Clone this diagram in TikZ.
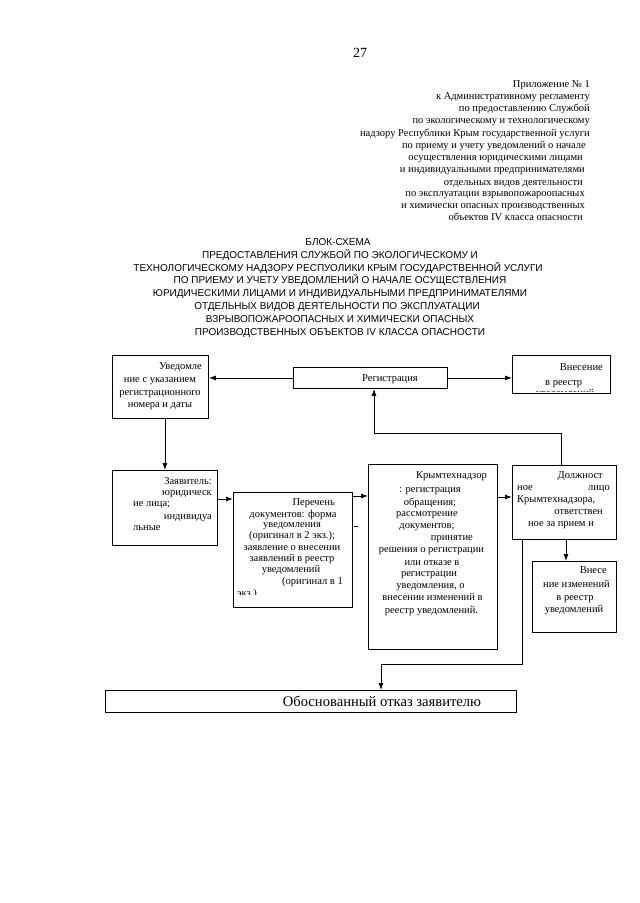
\documentclass[tikz,border=0pt]{standalone}
\usepackage{fontspec}
\setmainfont{Liberation Serif}
\newfontfamily\titlefont{Liberation Sans}
\usetikzlibrary{arrows.meta}
\begin{document}
\begin{tikzpicture}[x=1pt,y=-1pt,
  box/.style={draw, line width=0.9pt, inner sep=0pt, anchor=north west},
  tx/.style={inner sep=0pt, font=\fontsize{10.5}{12}\selectfont},
  ap/.style={inner sep=0pt, anchor=base east, font=\fontsize{10.5}{12}\selectfont},
  hd/.style={inner sep=0pt, anchor=base, font=\titlefont\fontsize{10}{12}\selectfont},
  conn/.style={line width=0.9pt},
  arr/.style={conn, -{Latex[length=7pt,width=5pt]}},
]
\useasboundingbox (0,0) rectangle (640,903);
\fill[white] (0,0) rectangle (640,903);

% page number
\node[inner sep=0pt, anchor=base, font=\fontsize{14}{16}\selectfont] (pg) at (360,57) {27};

% appendix header
\node[ap] (ap1) at (590,87) {Приложение № 1};
\node[ap] (ap2) at (590,99) {к Административному регламенту};
\node[ap] (ap3) at (590,111) {по предоставлению Службой};
\node[ap] (ap4) at (590,123) {по экологическому и технологическому};
\node[ap] (ap5) at (590,136) {надзору Республики Крым государственной услуги};
\node[ap] (ap6) at (586,148) {по приему и учету уведомлений о начале};
\node[ap] (ap7) at (583,160) {осуществления юридическими лицами};
\node[ap] (ap8) at (585,172) {и индивидуальными предпринимателями};
\node[ap] (ap9) at (583,185) {отдельных видов деятельности};
\node[ap] (ap10) at (585,196) {по эксплуатации взрывопожароопасных};
\node[ap] (ap11) at (585,208) {и химически опасных производственных};
\node[ap] (ap12) at (583,220) {объектов IV класса опасности};

% title
\node[hd] (hd1) at (338,245.5) {БЛОК-СХЕМА};
\node[hd] (hd2) at (340,258.3) {ПРЕДОСТАВЛЕНИЯ СЛУЖБОЙ ПО ЭКОЛОГИЧЕСКОМУ И};
\node[hd] (hd3) at (338,271.1) {ТЕХНОЛОГИЧЕСКОМУ НАДЗОРУ РЕСПУОЛИКИ КРЫМ ГОСУДАРСТВЕННОЙ УСЛУГИ};
\node[hd] (hd4) at (340,283.9) {ПО ПРИЕМУ И УЧЕТУ УВЕДОМЛЕНИЙ О НАЧАЛЕ ОСУЩЕСТВЛЕНИЯ};
\node[hd] (hd5) at (340,296.7) {ЮРИДИЧЕСКИМИ ЛИЦАМИ И ИНДИВИДУАЛЬНЫМИ ПРЕДПРИНИМАТЕЛЯМИ};
\node[hd] (hd6) at (337,309.5) {ОТДЕЛЬНЫХ ВИДОВ ДЕЯТЕЛЬНОСТИ ПО ЭКСПЛУАТАЦИИ};
\node[hd] (hd7) at (340,322.3) {ВЗРЫВОПОЖАРООПАСНЫХ И ХИМИЧЕСКИ ОПАСНЫХ};
\node[hd] (hd8) at (340,335.1) {ПРОИЗВОДСТВЕННЫХ ОБЪЕКТОВ IV КЛАССА ОПАСНОСТИ};

% boxes
\node[box, minimum width=96pt, minimum height=63pt] (uv) at (112,355) {};
\node[box, minimum width=154pt, minimum height=21pt] (reg) at (293,367) {};
\node[box, minimum width=98pt, minimum height=38pt] (vr) at (512,355) {};
\node[box, minimum width=105pt, minimum height=75pt] (zv) at (112,470) {};
\node[box, minimum width=119pt, minimum height=115pt] (per) at (233,492) {};
\node[box, minimum width=129pt, minimum height=185pt] (kr) at (368,464) {};
\node[box, minimum width=104pt, minimum height=74pt] (dl) at (512,465) {};
\node[box, minimum width=84pt, minimum height=71pt] (vi) at (532,561) {};
\node[box, minimum width=411pt, minimum height=22pt] (ob) at (105,690) {};

% Уведомление
\node[tx, anchor=base east] (uv1) at (202,369) {Уведомле};
\node[tx, anchor=base] (uv2) at (160,382) {ние с указанием};
\node[tx, anchor=base] (uv3) at (160,395) {регистрационного};
\node[tx, anchor=base] (uv4) at (160,407) {номера и даты};

% Регистрация
\node[tx, anchor=base east] (reg1) at (418,381) {Регистрация};

% Внесение в реестр
\node[tx, anchor=base east] (vr1) at (603,370) {Внесение};
\node[tx, anchor=base west] (vr2) at (545,385) {в реестр};
\begin{scope}
  \clip (513,356) rectangle (609,391.6);
  \node[tx, anchor=base] (vr3) at (565,396) {уведомлений};
\end{scope}

% Заявитель
\node[tx, anchor=base east] (zv1) at (212,484) {Заявитель:};
\node[tx, anchor=base east] (zv2) at (212,495) {юридическ};
\node[tx, anchor=base west] (zv3) at (133,506) {ие лица;};
\node[tx, anchor=base east] (zv4) at (212,519) {индивидуа};
\node[tx, anchor=base west] (zv5) at (133,530) {льные};

% Перечень
\node[tx, anchor=base east] (pe1) at (335,505.5) {Перечень};
\node[tx, anchor=base] (pe2) at (293,517) {документов: форма};
\node[tx, anchor=base] (pe3) at (292,527.5) {уведомления};
\node[tx, anchor=base] (pe4) at (292,538.5) {(оригинал в 2 экз.);};
\node[tx, anchor=base] (pe5) at (292,550.5) {заявление о внесении};
\node[tx, anchor=base] (pe6) at (292,561.5) {заявлений в реестр};
\node[tx, anchor=base] (pe7) at (291,572.5) {уведомлений};
\node[tx, anchor=base east] (pe8) at (343,584.5) {(оригинал в 1};
\begin{scope}
  \clip (234,586) rectangle (351,594);
  \node[tx, anchor=base west] (pe9) at (237,596) {экз.)};
\end{scope}

% Крымтехнадзор
\node[tx, anchor=base east] (kr1) at (487,478) {Крымтехнадзор};
\node[tx, anchor=base] (kr2) at (430,492) {: регистрация};
\node[tx, anchor=base] (kr3) at (430,505) {обращения;};
\node[tx, anchor=base] (kr4) at (427,516) {рассмотрение};
\node[tx, anchor=base] (kr5) at (427,528) {документов;};
\node[tx, anchor=base east] (kr6) at (473,540) {принятие};
\node[tx, anchor=base] (kr7) at (431.5,552) {решения о регистрации};
\node[tx, anchor=base] (kr8) at (432,565) {или отказе в};
\node[tx, anchor=base] (kr9) at (429,576) {регистрации};
\node[tx, anchor=base] (kr10) at (430.5,588) {уведомления, о};
\node[tx, anchor=base] (kr11) at (432.5,600) {внесении изменений в};
\node[tx, anchor=base] (kr12) at (431.5,613) {реестр уведомлений.};

% Должностное лицо
\node[tx, anchor=base east] (dl1) at (603,478) {Должност};
\node[tx, anchor=base west] (dl2) at (517,490) {ное};
\node[tx, anchor=base east] (dl3) at (610,490) {лицо};
\node[tx, anchor=base west] (dl4) at (517,502) {Крымтехнадзора,};
\node[tx, anchor=base east] (dl5) at (603,514) {ответствен};
\node[tx, anchor=base] (dl6) at (561,526) {ное за прием и};

% Внесение изменений
\node[tx, anchor=base east] (vi1) at (607,573) {Внесе};
\node[tx, anchor=base] (vi2) at (576.5,587) {ние изменений};
\node[tx, anchor=base] (vi3) at (575,600) {в реестр};
\node[tx, anchor=base] (vi4) at (574,612) {уведомлений};

% Обоснованный отказ
\node[inner sep=0pt, anchor=base, font=\fontsize{14.6}{16}\selectfont] (ob1) at (382,706) {Обоснованный отказ заявителю};

% connectors
\draw[arr] (reg.west) -- (reg.west -| uv.east);
\draw[arr] (reg.east) -- (reg.east -| vr.west);
\draw[arr] (uv.south -| zv.north) -- (zv.north);
\coordinate (h1) at (0,499);
\draw[arr] (zv.east |- h1) -- (per.west |- h1);
\coordinate (h2) at (0,496);
\draw[arr] (per.east |- h2) -- (kr.west |- h2);
\coordinate (h3) at (0,497);
\draw[arr] (kr.east |- h3) -- (dl.west |- h3);
\coordinate (d1) at (354,526);
\coordinate (d2) at (358,526);
\draw[conn] (d1) -- (d2);
\coordinate (j1) at (561,433);
\coordinate (j2) at (374,433);
\draw[arr] (j1 |- dl.north) -- (j1) -- (j2) -- (j2 |- reg.south);
\coordinate (a1) at (566,550);
\draw[arr] (a1 |- dl.south) -- (a1 |- vi.north);
\coordinate (k1) at (522,664);
\coordinate (k2) at (381,664);
\draw[arr] (k1 |- dl.south) -- (k1) -- (k2) -- (k2 |- ob.north);
\end{tikzpicture}
\end{document}
